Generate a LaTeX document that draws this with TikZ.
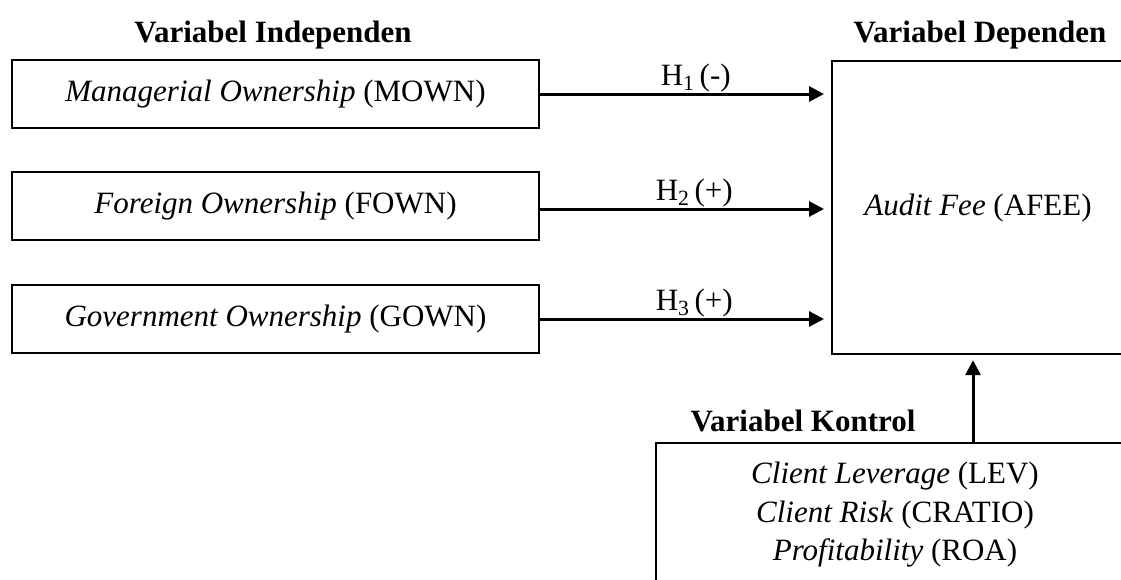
\documentclass[tikz,border=0pt]{standalone}
\usepackage{fontspec}
\setmainfont{Liberation Serif}
\usetikzlibrary{arrows.meta}
\begin{document}
\begin{tikzpicture}[x={(1pt,0pt)},y={(0pt,-1pt)},
  txt/.style={font=\fontsize{31}{38.5}\selectfont, inner sep=0pt},
  ttl/.style={font=\fontsize{31}{38.5}\selectfont\bfseries, inner sep=0pt, anchor=base},
  varbox/.style={draw, line width=2.2pt, minimum width=527pt, minimum height=68pt, inner sep=0pt, font=\fontsize{31}{38.5}\selectfont},
  bigbox/.style={draw, line width=2.2pt, inner sep=0pt},
  arr/.style={line width=3pt, -{Triangle[length=15pt,width=15pt]}, shorten >=7pt},
  hlab/.style={font=\fontsize{31}{38.5}\selectfont, inner sep=0pt, anchor=base}]
\useasboundingbox (0,0) rectangle (1121,579);
\clip (0,0) rectangle (1121,579);
\fill[white] (0,0) rectangle (1121,579);

% titles
\node[ttl] (tind) at (273,42) {Variabel Independen};
\node[ttl] (tdep) at (980,42) {Variabel Dependen};
\node[ttl] (tkon) at (803,431) {Variabel Kontrol};

% independent variables
\node[varbox] (m) at (275.5,94) {\textit{Managerial Ownership} (MOWN)};
\node[varbox] (f) at (275.5,206) {\textit{Foreign Ownership} (FOWN)};
\node[varbox] (g) at (275.5,319) {\textit{Government Ownership} (GOWN)};

% dependent variable box (cut by the right edge)
\node[bigbox, minimum width=400pt, minimum height=293pt, anchor=north west] (dep) at (831,60) {};
\node[txt] (afee) at (978,208) {\textit{Audit Fee} (AFEE)};

% control box (cut by right and bottom edges)
\node[bigbox, minimum width=600pt, minimum height=300pt, anchor=north west] (ctrl) at (655,442) {};
\node[txt, align=center] (ctxt) at (895,515) {\textit{Client Leverage} (LEV)\\ \textit{Client Risk} (CRATIO)\\ \textit{Profitability} (ROA)};

% hypotheses arrows
\draw[arr] (m.east) -- (m.east -| dep.west) node[hlab, pos=0.535, yshift=9pt] {H\textsubscript{1}\,(-)};
\draw[arr] ([yshift=-3pt]f.east) -- ([yshift=-3pt]f.east -| dep.west) node[hlab, pos=0.53, yshift=9pt] {H\textsubscript{2}\,(+)};
\draw[arr] (g.east) -- (g.east -| dep.west) node[hlab, pos=0.53, yshift=9pt] {H\textsubscript{3}\,(+)};

% control arrow
\coordinate (ux) at (973,0);
\draw[arr, shorten >=5pt] (ctrl.north west -| ux) -- (dep.south west -| ux);
\end{tikzpicture}
\end{document}
